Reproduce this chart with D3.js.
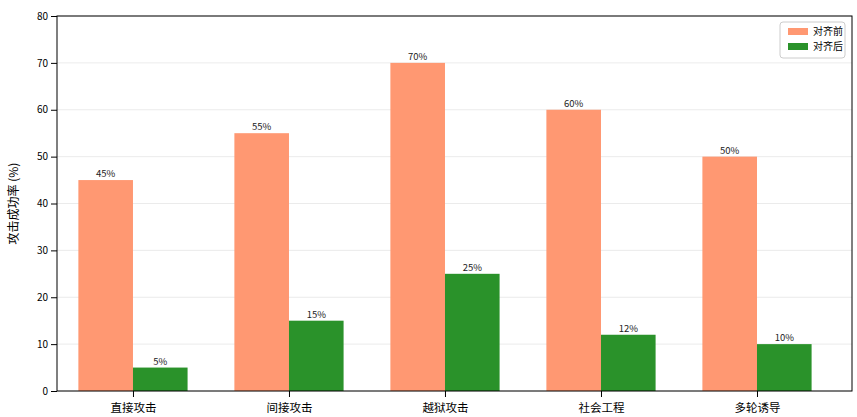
<!DOCTYPE html><html><head><meta charset="utf-8"><script src="https://cdn.jsdelivr.net/npm/d3@7"></script>
<style>body{margin:0;background:#fff}text{font-family:"Noto Sans CJK SC","DejaVu Sans",sans-serif}</style></head><body>
<svg id="c" width="857" height="417"></svg>
<script>
const categories=["直接攻击","间接攻击","越狱攻击","社会工程","多轮诱导"];
const before=[45,55,70,60,50];
const after=[5,15,25,12,10];
const yTicks=[0,10,20,30,40,50,60,70,80];
const seriesNames=["对齐前","对齐后"];
const colors=["#FF9872","#2A922A"];
const svg=d3.select("#c");
const L=57,R=852,T=16,B=391;
const x=d3.scaleLinear().domain([-0.487,4.609]).range([L,R]);
const y=d3.scaleLinear().domain([0,80]).range([B,T]);
const w=0.35;
const g=svg.append("g");
g.selectAll(".grid").data(yTicks).enter().append("line").attr("x1",L).attr("x2",R).attr("y1",d=>y(d)).attr("y2",d=>y(d)).attr("stroke","#e6e6e6").attr("stroke-width",0.8);
[before,after].forEach((s,si)=>{
  const off=si===0?-w/2:w/2;
  g.selectAll(".b"+si).data(s).enter().append("rect").attr("x",(d,i)=>x(i+off-w/2)).attr("width",x(w)-x(0)).attr("y",d=>y(d)).attr("height",d=>B-y(d)).attr("fill",colors[si]);
  g.selectAll(".t"+si).data(s).enter().append("text").attr("x",(d,i)=>x(i+off)).attr("y",d=>y(d)-3).attr("text-anchor","middle").attr("font-size",9.5).attr("fill","#222").text(d=>d+"%");
});
svg.append("g").attr("transform",`translate(0,${B})`).call(d3.axisBottom(x).tickValues(d3.range(5)).tickFormat(i=>categories[i]).tickSizeOuter(0)).call(a=>a.selectAll("text").attr("font-size",11.5).attr("fill","#000").attr("dy","1.0em")).call(a=>a.select(".domain").remove());
svg.append("g").attr("transform",`translate(${L},0)`).call(d3.axisLeft(y).tickValues(yTicks).tickSizeOuter(0)).call(a=>a.selectAll("text").attr("font-size",10).attr("fill","#000")).call(a=>a.select(".domain").remove());
svg.append("rect").attr("x",L).attr("y",T).attr("width",R-L).attr("height",B-T).attr("fill","none").attr("stroke","#000").attr("stroke-width",1);
svg.append("text").attr("transform",`translate(18,${(T+B)/2}) rotate(-90)`).attr("text-anchor","middle").attr("font-size",12).text("攻击成功率 (%)");
const lg=svg.append("g").attr("transform","translate(780,22)");
lg.append("rect").attr("width",65).attr("height",36).attr("rx",3).attr("fill","#fff").attr("stroke","#ccc");
seriesNames.forEach((n,i)=>{lg.append("rect").attr("x",8).attr("y",6+i*15).attr("width",20).attr("height",7).attr("fill",colors[i]);
lg.append("text").attr("x",33).attr("y",13+i*15).attr("font-size",10).text(n);});
</script></body></html>
